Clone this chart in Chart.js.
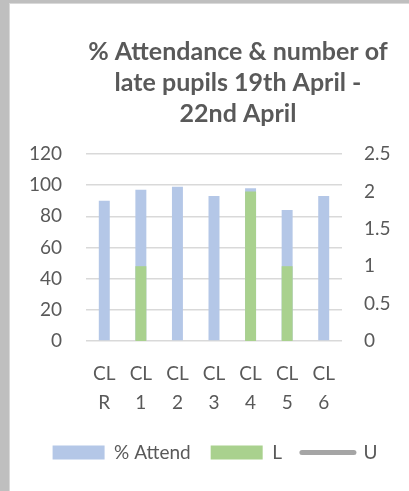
<!DOCTYPE html>
<html><head><meta charset="utf-8">
<script src="https://cdn.jsdelivr.net/npm/chart.js@4"></script>
<style>
html,body{margin:0;padding:0;background:#bfbfbf;width:409px;height:491px;overflow:hidden}
#box{position:absolute;left:9px;top:3px;width:400px;height:488px;background:#fff;border-left:1px solid #d9d9d9;border-top:1px solid #d9d9d9}
#wrap{position:absolute;left:0;top:0;width:399px;height:487px}
</style></head><body>
<div id="box"><div id="wrap"><canvas id="c"></canvas></div></div>
<script>
const categories = [["CL","R"],["CL","1"],["CL","2"],["CL","3"],["CL","4"],["CL","5"],["CL","6"]];
const attendPct = [90, 97, 99, 93, 98, 84, 93];
const latePupils = [0, 1, 0, 0, 2, 1, 0];
const unauthorised = [null, null, null, null, null, null, null];
const titleLines = ['% Attendance & number of', 'late pupils 19th April -', '22nd April'];
const seriesNames = ['% Attend', 'L', 'U'];

Chart.defaults.font.family = 'Lato';
Chart.defaults.color = '#595959';

const titleShift = {
  id: 'titleShift',
  afterLayout(chart) {
    const t = chart.titleBlock;
    if (t) { t.left += 23; t.right += 23; }
  }
};

new Chart(document.getElementById('c'), {
  type: 'bar',
  data: {
    labels: categories,
    datasets: [
      { label: seriesNames[0], data: attendPct, backgroundColor: '#b4c7e7', yAxisID: 'y', grouped: false, order: 2,
        categoryPercentage: 1, barPercentage: 0.3 },
      { label: seriesNames[1], data: latePupils, backgroundColor: '#a9d18e', yAxisID: 'y1', grouped: false, order: 1,
        categoryPercentage: 1, barPercentage: 0.3 },
      { type: 'line', label: seriesNames[2], data: unauthorised, borderColor: '#a5a5a5', backgroundColor: '#a5a5a5',
        borderWidth: 5, pointRadius: 0, yAxisID: 'y1', order: 0 }
    ]
  },
  options: {
    responsive: true,
    maintainAspectRatio: false,
    animation: false,
    devicePixelRatio: 1,
    layout: { padding: { left: 11, right: 0, top: 0, bottom: 19 } },
    plugins: {
      tooltip: { enabled: false },
      title: {
        display: true,
        text: titleLines,
        color: '#595959',
        font: { size: 25, weight: 'bold', lineHeight: 1.24 },
        padding: { top: 32, bottom: 25 }
      },
      legend: {
        position: 'bottom',
        labels: {
          usePointStyle: true,
          pointStyleWidth: 52,
          boxHeight: 14,
          padding: 20,
          color: '#595959',
          font: { size: 19 },
          sort: (a, b) => a.datasetIndex - b.datasetIndex,
          generateLabels(chart) {
            const items = Chart.defaults.plugins.legend.labels.generateLabels(chart);
            items.forEach(it => {
              const ds = chart.data.datasets[it.datasetIndex];
              if (ds.type === 'line') {
                it.pointStyle = 'line'; it.lineWidth = 5; it.strokeStyle = '#a5a5a5'; it.lineCap = 'round';
              } else {
                it.pointStyle = 'rect'; it.lineWidth = 0; it.fillStyle = ds.backgroundColor;
              }
            });
            return items;
          }
        }
      }
    },
    scales: {
      x: {
        grid: { display: false },
        border: { display: false },
        ticks: { font: { size: 19, lineHeight: 1.55 }, color: '#595959', padding: 10, maxRotation: 0, autoSkip: false },
        afterFit(s) { s.height = 82; }
      },
      y: {
        position: 'left',
        min: 0, max: 120,
        ticks: { stepSize: 20, font: { size: 19 }, color: '#595959', padding: 24 },
        grid: { color: '#d9d9d9', lineWidth: 1.5, drawTicks: false },
        border: { display: false },
        afterFit(s) { s.width = 65; }
      },
      y1: {
        position: 'right',
        min: 0, max: 2.5,
        ticks: { stepSize: 0.5, font: { size: 19 }, color: '#595959', padding: 22,
                 callback: (v) => String(Math.round(v * 10) / 10) },
        grid: { display: false, drawTicks: false },
        border: { display: false },
        afterFit(s) { s.width = 67; }
      }
    }
  },
  plugins: [titleShift]
});
</script>
</body></html>
